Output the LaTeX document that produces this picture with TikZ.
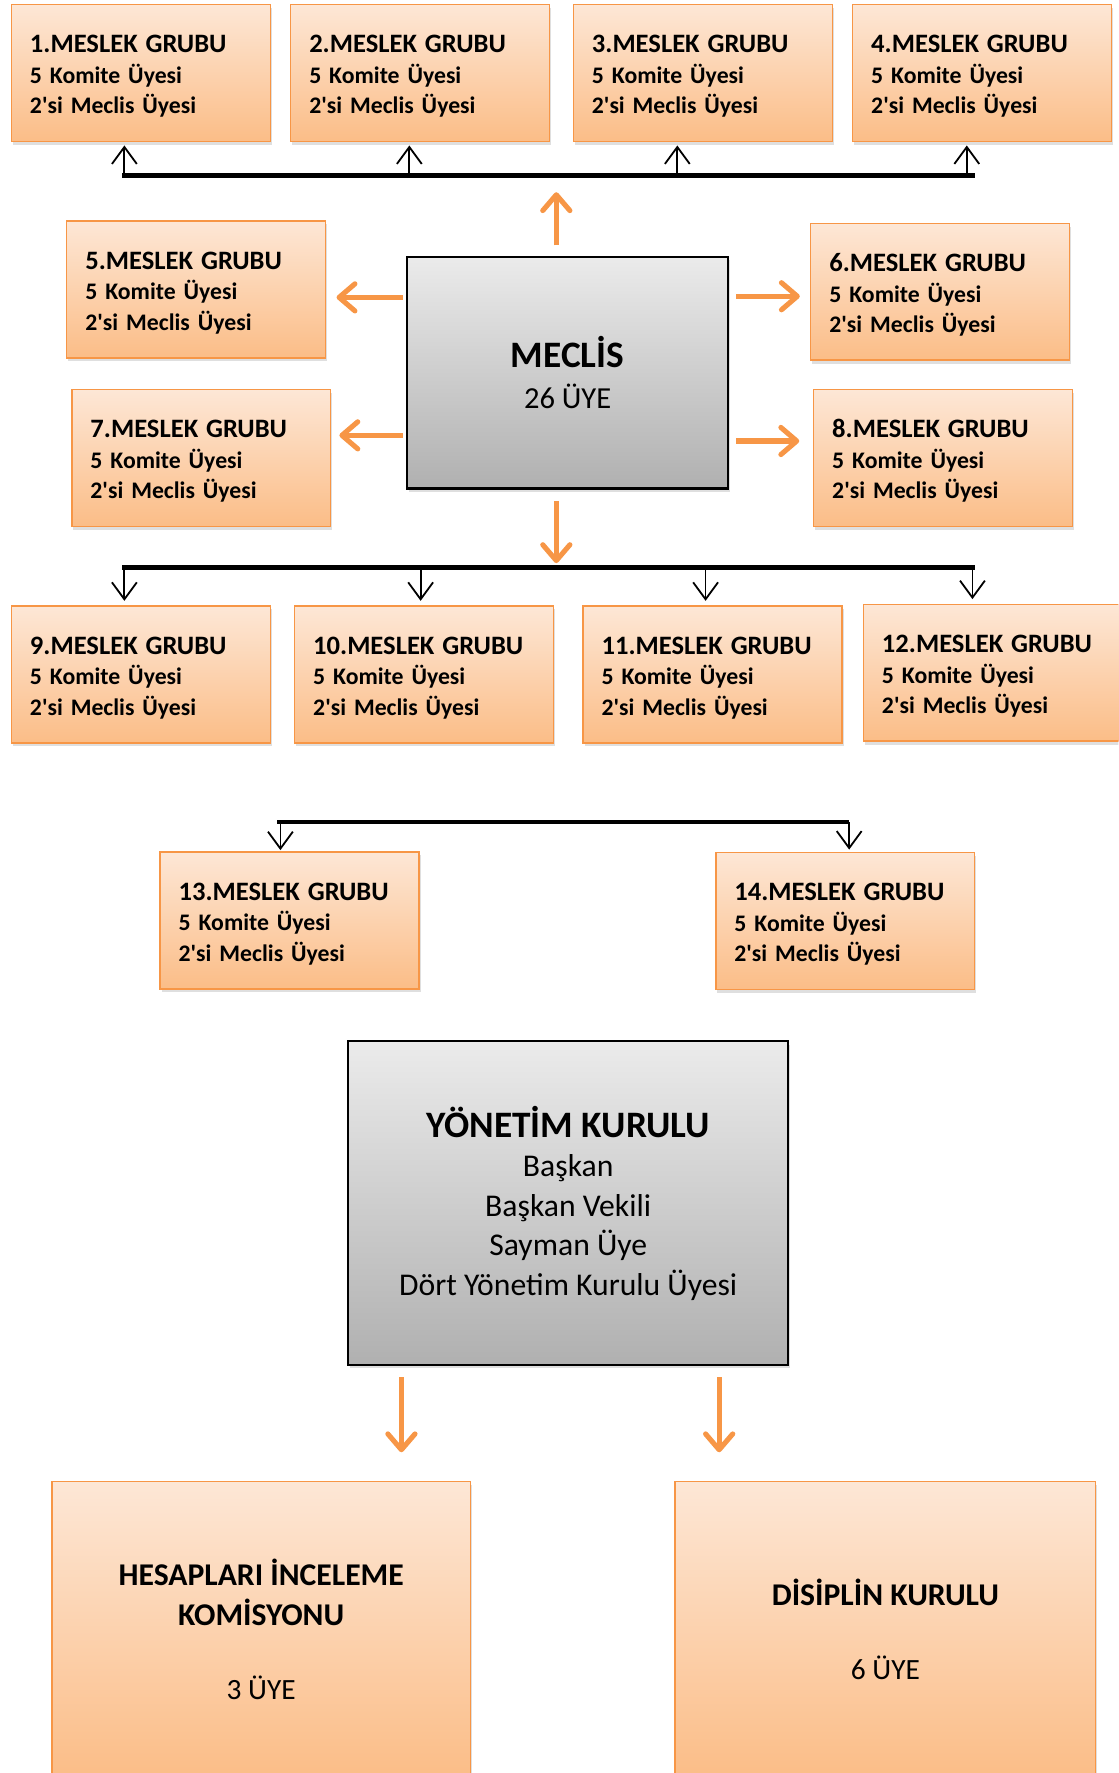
\documentclass[tikz,border=0pt]{standalone}
\usepackage{fontspec}
\setmainfont{Carlito}
\usetikzlibrary{arrows.meta,shadows}
\definecolor{turuncu}{HTML}{F79646}
\definecolor{seftaliust}{HTML}{FDE7D6}
\definecolor{seftalialt}{HTML}{FBBD87}
\definecolor{griust}{HTML}{EBEBEB}
\definecolor{grialt}{HTML}{B0B0B0}
\newcommand{\grupyazi}[1]{{\fontsize{23.5pt}{27pt}\selectfont\rule{0pt}{21.5pt}#1.MESLEK GRUBU}\\5 Komite Üyesi\\2\textquotesingle si Meclis Üyesi}
\tikzset{
  golge/.style={drop shadow={opacity=.25,shadow xshift=1.5pt,shadow yshift=-3pt}},
  grup/.style={draw=turuncu,line width=1.3pt,top color=seftaliust,bottom color=seftalialt,golge,
    minimum width=229pt,minimum height=121pt,text width=196pt,inner xsep=16.5pt,inner ysep=0pt,
    align=left,font=\bfseries\fontsize{21pt}{27pt}\selectfont},
  kurul/.style={draw=black,line width=1.8pt,top color=griust,bottom color=grialt,golge,align=center},
  komisyon/.style={draw=turuncu,line width=1.3pt,top color=seftaliust,bottom color=seftalialt,golge,
    align=center,minimum height=262pt,font=\fontsize{26pt}{35pt}\selectfont},
  okturuncu/.style={draw=turuncu,line width=4.5pt,-{Straight Barb[length=14pt,width=24pt,round]}},
  okince/.style={line width=1.6pt,-{Straight Barb[length=15pt,width=22pt]}},
  hat/.style={line width=4pt},
}
\begin{document}
\begin{tikzpicture}[x=1pt,y=-1pt]
  \clip (0,0) rectangle (989,1568);
  % meslek gruplari
  \node[grup] (g1) at (124.5,64.5) {\grupyazi{1}};
  \node[grup] (g2) at (371.5,64.5) {\grupyazi{2}};
  \node[grup] (g3) at (621.5,64.5) {\grupyazi{3}};
  \node[grup] (g4) at (868.5,64.5) {\grupyazi{4}};
  \node[grup] (g5) at (173.5,256) {\grupyazi{5}};
  \node[grup] (g6) at (831.5,258) {\grupyazi{6}};
  \node[grup] (g7) at (178,405) {\grupyazi{7}};
  \node[grup] (g8) at (834,405) {\grupyazi{8}};
  \node[grup] (g9) at (124.5,596.5) {\grupyazi{9}};
  \node[grup] (g10) at (375,596.5) {\grupyazi{10}};
  \node[grup] (g11) at (630,596.5) {\grupyazi{11}};
  \node[grup] (g12) at (878,595) {\grupyazi{12}};
  \node[grup] (g13) at (256,814) {\grupyazi{13}};
  \node[grup] (g14) at (747.5,814.5) {\grupyazi{14}};
  % kurullar
  \node[kurul,minimum width=284pt,minimum height=205pt,font=\fontsize{27pt}{37pt}\selectfont] (meclis) at (502,329.5)
    {{\bfseries\fontsize{33pt}{37pt}\selectfont MECLİS}\\26 ÜYE};
  \node[kurul,minimum width=389pt,minimum height=286pt,font=\fontsize{28pt}{35pt}\selectfont] (yk) at (502.5,1064)
    {{\bfseries\fontsize{33pt}{35pt}\selectfont YÖNETİM KURULU}\\Başkan\\Başkan Vekili\\Sayman Üye\\Dört Yönetim Kurulu Üyesi};
  \node[komisyon,minimum width=370pt] (hesap) at (231,1441)
    {{\bfseries\fontsize{28pt}{35pt}\selectfont HESAPLARI İNCELEME}\\{\bfseries\fontsize{28pt}{35pt}\selectfont KOMİSYONU}\\[31pt]3 ÜYE};
  \node[komisyon,minimum width=372pt] (disiplin) at (783,1441)
    {{\bfseries\fontsize{28pt}{35pt}\selectfont DİSİPLİN KURULU}\\[30pt]6 ÜYE};
  % ust hat
  \coordinate (ustsol) at (108,155);
  \coordinate (ustsag) at (862,155);
  \coordinate (u1) at (110,155);
  \coordinate (u2) at (362,155);
  \coordinate (u3) at (599,155);
  \coordinate (u4) at (855,155);
  \coordinate (mu) at (492,155);
  \draw[hat] (ustsol) -- (ustsag);
  \draw[okince,shorten >=3pt] (u1) -- (u1 |- g1.south);
  \draw[okince,shorten >=3pt] (u2) -- (u2 |- g2.south);
  \draw[okince,shorten >=3pt] (u3) -- (u3 |- g3.south);
  \draw[okince,shorten >=3pt] (u4) -- (u4 |- g4.south);
  % alt hat
  \coordinate (altsol) at (108,502);
  \coordinate (altsag) at (862,502);
  \coordinate (a1) at (110,502);
  \coordinate (a2) at (372,502);
  \coordinate (a3) at (624,502);
  \coordinate (a4) at (860,502);
  \coordinate (md) at (492,502);
  \draw[hat] (altsol) -- (altsag);
  \draw[okince,shorten >=4pt] (a1) -- (a1 |- g9.north);
  \draw[okince,shorten >=4pt] (a2) -- (a2 |- g10.north);
  \draw[okince,shorten >=4pt] (a3) -- (a3 |- g11.north);
  \draw[okince,shorten >=4pt] (a4) -- (a4 |- g12.north);
  % 13-14 hatti
  \coordinate (c1) at (248,727);
  \coordinate (c2) at (751,727);
  \draw[line width=3pt] ([xshift=-3pt]c1) -- (c2);
  \draw[okince,shorten >=1pt] (c1) -- (c1 |- g13.north);
  \draw[okince,shorten >=2pt] (c2) -- (c2 |- g14.north);
  % meclis oklari
  \coordinate (y5) at (0,263);
  \coordinate (y6) at (0,262);
  \coordinate (y7) at (0,385);
  \coordinate (y8) at (0,390);
  \draw[okturuncu,shorten <=9pt,shorten >=15pt] (mu |- meclis.north) -- (mu);
  \draw[okturuncu,shorten <=10pt,shorten >=4pt] (md |- meclis.south) -- (md);
  \draw[okturuncu,shorten <=3pt,shorten >=9pt] (meclis.west |- y5) -- (g5.east |- y5);
  \draw[okturuncu,shorten <=3pt,shorten >=7pt] (meclis.west |- y7) -- (g7.east |- y7);
  \draw[okturuncu,shorten <=6pt,shorten >=9pt] (meclis.east |- y6) -- (g6.west |- y6);
  \draw[okturuncu,shorten <=6pt,shorten >=12pt] (meclis.east |- y8) -- (g8.west |- y8);
  % yonetim kurulu oklari
  \coordinate (k1) at (355,0);
  \coordinate (k2) at (636,0);
  \draw[okturuncu,shorten <=10pt,shorten >=25pt] (k1 |- yk.south) -- (k1 |- hesap.north);
  \draw[okturuncu,shorten <=10pt,shorten >=25pt] (k2 |- yk.south) -- (k2 |- disiplin.north);
\end{tikzpicture}
\end{document}
